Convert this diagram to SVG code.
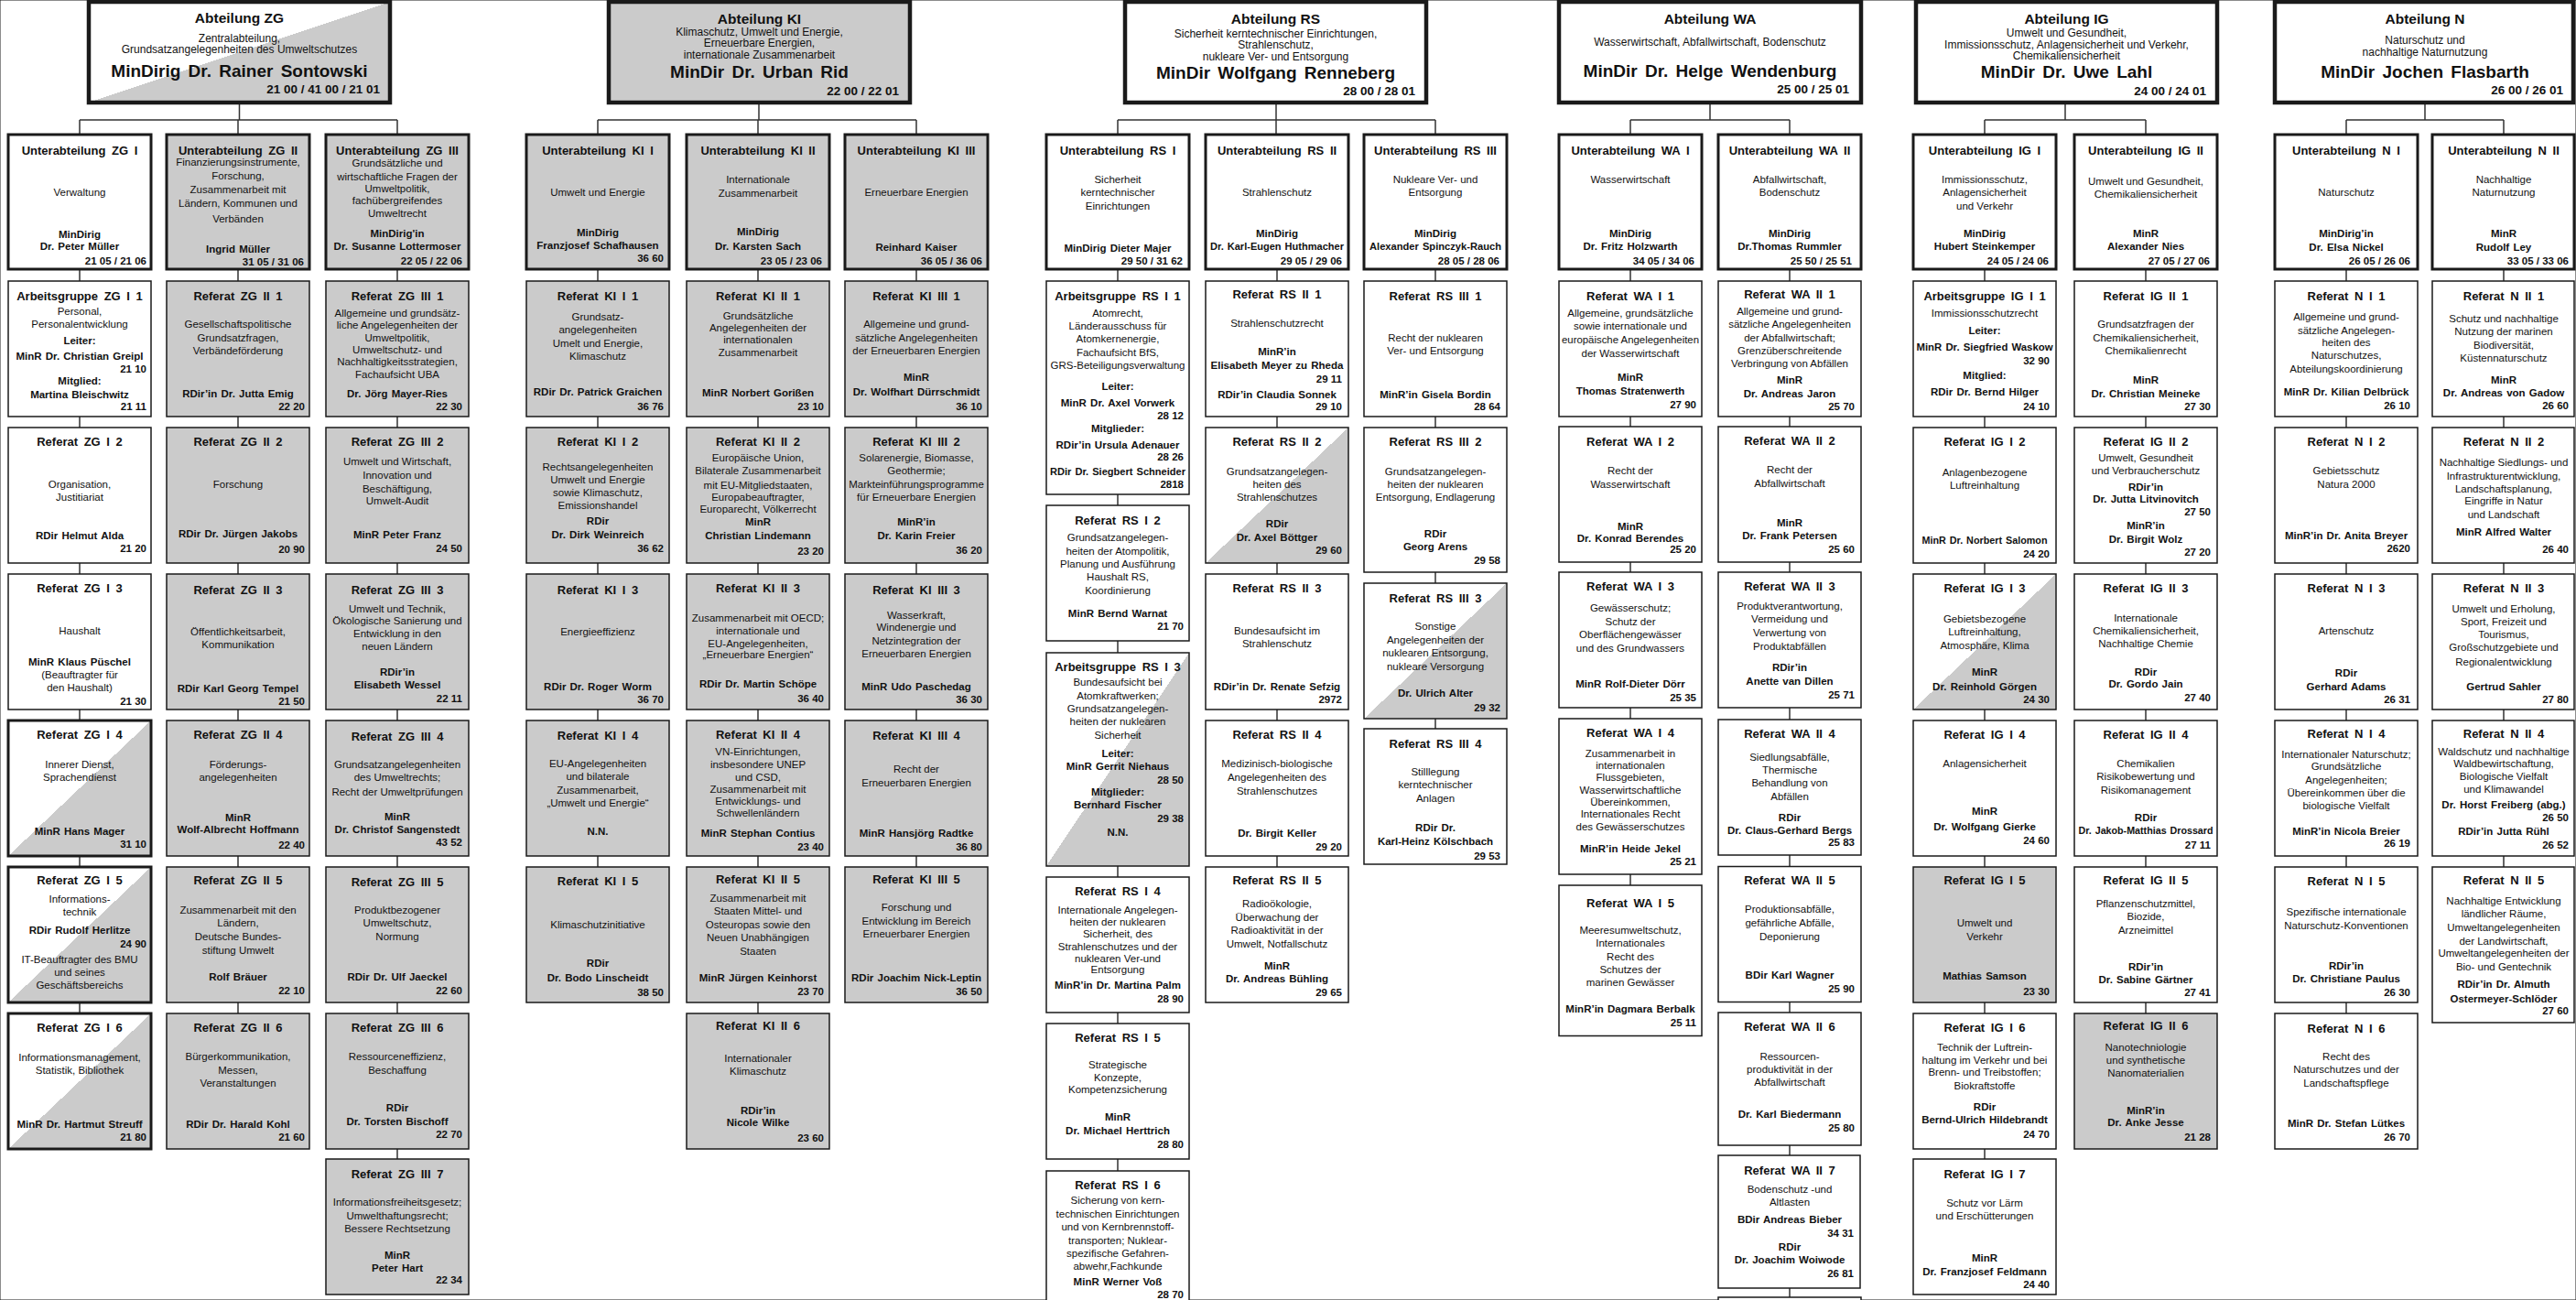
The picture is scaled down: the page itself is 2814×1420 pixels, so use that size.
<svg xmlns="http://www.w3.org/2000/svg" width="2814" height="1420" viewBox="0 0 2814 1420">
<style>
text{font-family:"Liberation Sans",Arial,Helvetica,sans-serif;fill:#111}
.t{font-size:13px;font-weight:bold;text-anchor:middle;word-spacing:3px}
.b{font-size:11.5px;text-anchor:middle}
.n{font-size:11.5px;font-weight:bold;text-anchor:middle;word-spacing:1px}
.p{font-size:11.5px;font-weight:bold;text-anchor:end}
.ht{font-size:15.5px;font-weight:bold;text-anchor:middle}
.hs{font-size:12px;text-anchor:middle}
.hn{font-size:19px;font-weight:bold;text-anchor:middle;word-spacing:3px}
.hp{font-size:13.5px;font-weight:bold;text-anchor:end}
rect{stroke:#1a1a1a}
.r{stroke-width:1.5}
.k{stroke-width:3}
.u{stroke-width:3}
.a{stroke-width:4.5}
.w{fill:#fff}.g{fill:#cbcbcb}.d{fill:url(#diag)}
.c{stroke:#333;stroke-width:1.5;fill:none}
</style>
<defs>
<linearGradient id="diag" x1="0" y1="0" x2="1" y2="1"><stop offset="0.5" stop-color="#fff"/><stop offset="0.5" stop-color="#cbcbcb"/></linearGradient>
</defs>
<rect x="0" y="0" width="2814" height="1420" fill="#fff" stroke="none"/>
<g id="connectors" class="c">
<path d="M261.5,-2V2M261.5,112V131M87,131H434M87,131V147M260,131V147M434,131V147"/>
<path d="M829,-2V2M829,112V131M653,131H1001M653,131V147M828,131V147M1001,131V147"/>
<path d="M1394,-2V2M1394,112V131M1221,131H1568M1221,131V147M1394,131V147M1568,131V147"/>
<path d="M1868,-2V2M1868,112V131M1781,131H1955M1781,131V147M1955,131V147"/>
<path d="M2256,-2V2M2256,112V131M2168,131H2344M2168,131V147M2344,131V147"/>
<path d="M2649,-2V2M2649,112V131M2563,131H2735M2563,131V147M2735,131V147"/>
<path d="M87,294V1107M260,294V1107M434,294V1266"/>
<path d="M653,294V947M828,294V1107M1001,294V947"/>
<path d="M1221,294V1279M1395,294V947M1568,294V796"/>
<path d="M1781,294V967M1955,294V1417"/>
<path d="M2168,294V1266M2344,294V1107"/>
<path d="M2563,294V1107M2735,294V947"/>
</g>

<!-- Abteilungen -->
<g id="abt-zg" transform="translate(97,2)"><rect class="a d" width="329" height="110"/>
<text class="ht" x="164.5" y="23">Abteilung ZG</text>
<text class="hs" x="164.5" y="43.5">Zentralabteilung,</text>
<text class="hs" x="164.5" y="56">Grundsatzangelegenheiten des Umweltschutzes</text>
<text class="hn" x="164.5" y="81.5">MinDirig Dr. Rainer Sontowski</text>
<text class="hp" x="318" y="99.5">21 00 / 41 00 / 21 01</text></g>
<g id="abt-ki" transform="translate(665,2)"><rect class="a g" width="329" height="110"/>
<text class="ht" x="164.5" y="24">Abteilung KI</text>
<text class="hs" x="164.5" y="36.5">Klimaschutz, Umwelt und Energie,</text>
<text class="hs" x="164.5" y="48.5">Erneuerbare Energien,</text>
<text class="hs" x="164.5" y="61.5">internationale Zusammenarbeit</text>
<text class="hn" x="164.5" y="83">MinDir Dr. Urban Rid</text>
<text class="hp" x="317" y="101.5">22 00 / 22 01</text></g>
<g id="abt-rs" transform="translate(1229,2)"><rect class="a w" width="329" height="110"/>
<text class="ht" x="164.5" y="24">Abteilung RS</text>
<text class="hs" x="164.5" y="38.7">Sicherheit kerntechnischer Einrichtungen,</text>
<text class="hs" x="164.5" y="51">Strahlenschutz,</text>
<text class="hs" x="164.5" y="64">nukleare Ver- und Entsorgung</text>
<text class="hn" x="164.5" y="84">MinDir Wolfgang Renneberg</text>
<text class="hp" x="317" y="101.5">28 00 / 28 01</text></g>
<g id="abt-wa" transform="translate(1703,2)"><rect class="a w" width="330" height="110"/>
<text class="ht" x="165" y="24">Abteilung WA</text>
<text class="hs" x="165" y="48">Wasserwirtschaft, Abfallwirtschaft, Bodenschutz</text>
<text class="hn" x="165" y="81.5">MinDir Dr. Helge Wendenburg</text>
<text class="hp" x="317" y="99.5">25 00 / 25 01</text></g>
<g id="abt-ig" transform="translate(2093,2)"><rect class="a w" width="329" height="110"/>
<text class="ht" x="164.5" y="24">Abteilung IG</text>
<text class="hs" x="164.5" y="38">Umwelt und Gesundheit,</text>
<text class="hs" x="164.5" y="50.7">Immissionsschutz, Anlagensicherheit und Verkehr,</text>
<text class="hs" x="164.5" y="63">Chemikaliensicherheit</text>
<text class="hn" x="164.5" y="83">MinDir Dr. Uwe Lahl</text>
<text class="hp" x="317" y="101.5">24 00 / 24 01</text></g>
<g id="abt-n" transform="translate(2485,2)"><rect class="a w" width="326" height="110"/>
<text class="ht" x="164" y="24">Abteilung N</text>
<text class="hs" x="164" y="46">Naturschutz und</text>
<text class="hs" x="164" y="59">nachhaltige Naturnutzung</text>
<text class="hn" x="164" y="83">MinDir Jochen Flasbarth</text>
<text class="hp" x="315" y="101">26 00 / 26 01</text></g>

<!-- Unterabteilungen -->
<g id="ua-zg-i" transform="translate(9,147)"><rect class="u w" width="156" height="147"/>
<text class="t" x="78" y="22">Unterabteilung ZG I</text>
<text class="b" x="78" y="67">Verwaltung</text>
<text class="n" x="78" y="112.5">MinDirig</text>
<text class="n" x="78" y="126">Dr. Peter Müller</text>
<text class="p" x="151" y="142">21 05 / 21 06</text></g>
<g id="ua-zg-ii" transform="translate(182,147)"><rect class="u g" width="156" height="147"/>
<text class="t" x="78" y="21.5">Unterabteilung ZG II</text>
<text class="b" x="78" y="34">Finanzierungsinstrumente,</text>
<text class="b" x="78" y="49">Forschung,</text>
<text class="b" x="78" y="63.6">Zusammenarbeit mit</text>
<text class="b" x="78" y="79">Ländern, Kommunen und</text>
<text class="b" x="78" y="96">Verbänden</text>
<text class="n" x="78" y="128.5">Ingrid Müller</text>
<text class="p" x="150" y="143">31 05 / 31 06</text></g>
<g id="ua-zg-iii" transform="translate(356,147)"><rect class="u g" width="156" height="147"/>
<text class="t" x="78" y="21.5">Unterabteilung ZG III</text>
<text class="b" x="78" y="35">Grundsätzliche und</text>
<text class="b" x="78" y="50">wirtschaftliche Fragen der</text>
<text class="b" x="78" y="62.7">Umweltpolitik,</text>
<text class="b" x="78" y="76">fachübergreifendes</text>
<text class="b" x="78" y="90">Umweltrecht</text>
<text class="n" x="78" y="111.5">MinDirig'in</text>
<text class="n" x="78" y="126">Dr. Susanne Lottermoser</text>
<text class="p" x="149" y="142">22 05 / 22 06</text></g>
<g id="ua-ki-i" transform="translate(575,147)"><rect class="u g" width="156" height="147"/>
<text class="t" x="78" y="22">Unterabteilung KI I</text>
<text class="b" x="78" y="67">Umwelt und Energie</text>
<text class="n" x="78" y="111">MinDirig</text>
<text class="n" x="78" y="125">Franzjosef Schafhausen</text>
<text class="p" x="150" y="139">36 60</text></g>
<g id="ua-ki-ii" transform="translate(750,147)"><rect class="u g" width="156" height="147"/>
<text class="t" x="78" y="22">Unterabteilung KI II</text>
<text class="b" x="78" y="53">Internationale</text>
<text class="b" x="78" y="68">Zusammenarbeit</text>
<text class="n" x="78" y="110">MinDirig</text>
<text class="n" x="78" y="126">Dr. Karsten Sach</text>
<text class="p" x="148" y="142">23 05 / 23 06</text></g>
<g id="ua-ki-iii" transform="translate(923,147)"><rect class="u g" width="156" height="147"/>
<text class="t" x="78" y="22">Unterabteilung KI III</text>
<text class="b" x="78" y="67">Erneuerbare Energien</text>
<text class="n" x="78" y="127">Reinhard Kaiser</text>
<text class="p" x="150" y="142">36 05 / 36 06</text></g>
<g id="ua-rs-i" transform="translate(1143,147)"><rect class="u w" width="156" height="147"/>
<text class="t" x="78" y="22">Unterabteilung RS I</text>
<text class="b" x="78" y="53">Sicherheit</text>
<text class="b" x="78" y="67">kerntechnischer</text>
<text class="b" x="78" y="82">Einrichtungen</text>
<text class="n" x="78" y="128">MinDirig Dieter Majer</text>
<text class="p" x="149" y="142">29 50 / 31 62</text></g>
<g id="ua-rs-ii" transform="translate(1317,147)"><rect class="u w" width="156" height="147"/>
<text class="t" x="78" y="22">Unterabteilung RS II</text>
<text class="b" x="78" y="67">Strahlenschutz</text>
<text class="n" x="78" y="112">MinDirig</text>
<text class="n" x="78" y="126" textLength="146" lengthAdjust="spacingAndGlyphs">Dr. Karl-Eugen Huthmacher</text>
<text class="p" x="149" y="142">29 05 / 29 06</text></g>
<g id="ua-rs-iii" transform="translate(1490,147)"><rect class="u w" width="156" height="147"/>
<text class="t" x="78" y="22">Unterabteilung RS III</text>
<text class="b" x="78" y="53">Nukleare Ver- und</text>
<text class="b" x="78" y="67">Entsorgung</text>
<text class="n" x="78" y="112">MinDirig</text>
<text class="n" x="78" y="126" textLength="144" lengthAdjust="spacingAndGlyphs">Alexander Spinczyk-Rauch</text>
<text class="p" x="148" y="142">28 05 / 28 06</text></g>
<g id="ua-wa-i" transform="translate(1703,147)"><rect class="u w" width="156" height="147"/>
<text class="t" x="78" y="22">Unterabteilung WA I</text>
<text class="b" x="78" y="53">Wasserwirtschaft</text>
<text class="n" x="78" y="112">MinDirig</text>
<text class="n" x="78" y="126">Dr. Fritz Holzwarth</text>
<text class="p" x="148" y="142">34 05 / 34 06</text></g>
<g id="ua-wa-ii" transform="translate(1877,147)"><rect class="u w" width="156" height="147"/>
<text class="t" x="78" y="22">Unterabteilung WA II</text>
<text class="b" x="78" y="53">Abfallwirtschaft,</text>
<text class="b" x="78" y="67">Bodenschutz</text>
<text class="n" x="78" y="112">MinDirig</text>
<text class="n" x="78" y="126">Dr.Thomas Rummler</text>
<text class="p" x="146" y="142">25 50 / 25 51</text></g>
<g id="ua-ig-i" transform="translate(2090,147)"><rect class="u w" width="156" height="147"/>
<text class="t" x="78" y="22">Unterabteilung IG I</text>
<text class="b" x="78" y="53">Immissionsschutz,</text>
<text class="b" x="78" y="67">Anlagensicherheit</text>
<text class="b" x="78" y="82">und Verkehr</text>
<text class="n" x="78" y="112">MinDirig</text>
<text class="n" x="78" y="126">Hubert Steinkemper</text>
<text class="p" x="148" y="142">24 05 / 24 06</text></g>
<g id="ua-ig-ii" transform="translate(2266,147)"><rect class="u w" width="156" height="147"/>
<text class="t" x="78" y="22">Unterabteilung IG II</text>
<text class="b" x="78" y="54.5">Umwelt und Gesundheit,</text>
<text class="b" x="78" y="69">Chemikaliensicherheit</text>
<text class="n" x="78" y="112">MinR</text>
<text class="n" x="78" y="126">Alexander Nies</text>
<text class="p" x="148" y="142">27 05 / 27 06</text></g>
<g id="ua-n-i" transform="translate(2485,147)"><rect class="u w" width="156" height="147"/>
<text class="t" x="78" y="22">Unterabteilung N I</text>
<text class="b" x="78" y="67">Naturschutz</text>
<text class="n" x="78" y="112">MinDirig’in</text>
<text class="n" x="78" y="127">Dr. Elsa Nickel</text>
<text class="p" x="148" y="142">26 05 / 26 06</text></g>
<g id="ua-n-ii" transform="translate(2657,147)"><rect class="u w" width="155" height="147"/>
<text class="t" x="78" y="22">Unterabteilung N II</text>
<text class="b" x="78" y="53">Nachhaltige</text>
<text class="b" x="78" y="67">Naturnutzung</text>
<text class="n" x="78" y="112">MinR</text>
<text class="n" x="78" y="127">Rudolf Ley</text>
<text class="p" x="149" y="142">33 05 / 33 06</text></g>

<!-- ZG I -->
<g id="zg-i-1" transform="translate(9,307)"><rect class="r w" width="156" height="148"/>
<text class="t" x="78" y="20.5">Arbeitsgruppe ZG I 1</text>
<text class="b" x="78" y="37">Personal,</text>
<text class="b" x="78" y="51">Personalentwicklung</text>
<text class="n" x="78" y="69">Leiter:</text>
<text class="n" x="78" y="86">MinR Dr. Christian Greipl</text>
<text class="p" x="151" y="100">21 10</text>
<text class="n" x="78" y="113">Mitglied:</text>
<text class="n" x="78" y="127.5">Martina Bleischwitz</text>
<text class="p" x="151" y="141">21 11</text></g>
<g id="zg-i-2" transform="translate(9,467)"><rect class="r w" width="156" height="148"/>
<text class="t" x="78" y="20">Referat ZG I 2</text>
<text class="b" x="78" y="66">Organisation,</text>
<text class="b" x="78" y="80">Justitiariat</text>
<text class="n" x="78" y="121.5">RDir Helmut Alda</text>
<text class="p" x="151" y="136">21 20</text></g>
<g id="zg-i-3" transform="translate(9,627)"><rect class="r w" width="156" height="148"/>
<text class="t" x="78" y="20">Referat ZG I 3</text>
<text class="b" x="78" y="66">Haushalt</text>
<text class="n" x="78" y="100">MinR Klaus Püschel</text>
<text class="b" x="78" y="114">(Beauftragter für</text>
<text class="b" x="78" y="128">den Haushalt)</text>
<text class="p" x="151" y="142.6">21 30</text></g>
<g id="zg-i-4" transform="translate(9,787)"><rect class="k d" width="156" height="148"/>
<text class="t" x="78" y="20">Referat ZG I 4</text>
<text class="b" x="78" y="52">Innerer Dienst,</text>
<text class="b" x="78" y="66">Sprachendienst</text>
<text class="n" x="78" y="124.5">MinR Hans Mager</text>
<text class="p" x="151" y="139">31 10</text></g>
<g id="zg-i-5" transform="translate(9,947)"><rect class="k d" width="156" height="148"/>
<text class="t" x="78" y="19">Referat ZG I 5</text>
<text class="b" x="78" y="38.5">Informations-</text>
<text class="b" x="78" y="53">technik</text>
<text class="n" x="78" y="73">RDir Rudolf Herlitze</text>
<text class="p" x="151" y="87.5">24 90</text>
<text class="b" x="78" y="105">IT-Beauftragter des BMU</text>
<text class="b" x="78" y="119">und seines</text>
<text class="b" x="78" y="132.5">Geschäftsbereichs</text></g>
<g id="zg-i-6" transform="translate(9,1107)"><rect class="k d" width="156" height="148"/>
<text class="t" x="78" y="20">Referat ZG I 6</text>
<text class="b" x="78" y="52">Informationsmanagement,</text>
<text class="b" x="78" y="66">Statistik, Bibliothek</text>
<text class="n" x="78" y="124.5">MinR Dr. Hartmut Streuff</text>
<text class="p" x="151" y="139">21 80</text></g>

<!-- ZG II -->
<g id="zg-ii-1" transform="translate(182,307)"><rect class="r g" width="156" height="148"/>
<text class="t" x="78" y="20.5">Referat ZG II 1</text>
<text class="b" x="78" y="51">Gesellschaftspolitische</text>
<text class="b" x="78" y="65.5">Grundsatzfragen,</text>
<text class="b" x="78" y="80">Verbändeförderung</text>
<text class="n" x="78" y="127">RDir’in Dr. Jutta Emig</text>
<text class="p" x="151" y="141">22 20</text></g>
<g id="zg-ii-2" transform="translate(182,467)"><rect class="r g" width="156" height="148"/>
<text class="t" x="78" y="20">Referat ZG II 2</text>
<text class="b" x="78" y="66">Forschung</text>
<text class="n" x="78" y="120">RDir Dr. Jürgen Jakobs</text>
<text class="p" x="151" y="137">20 90</text></g>
<g id="zg-ii-3" transform="translate(182,627)"><rect class="r g" width="156" height="148"/>
<text class="t" x="78" y="21.5">Referat ZG II 3</text>
<text class="b" x="78" y="67">Öffentlichkeitsarbeit,</text>
<text class="b" x="78" y="80.6">Kommunikation</text>
<text class="n" x="78" y="129">RDir Karl Georg Tempel</text>
<text class="p" x="151" y="142.6">21 50</text></g>
<g id="zg-ii-4" transform="translate(182,787)"><rect class="r g" width="156" height="148"/>
<text class="t" x="78" y="20">Referat ZG II 4</text>
<text class="b" x="78" y="52">Förderungs-</text>
<text class="b" x="78" y="66">angelegenheiten</text>
<text class="n" x="78" y="109.6">MinR</text>
<text class="n" x="78" y="123.4">Wolf-Albrecht Hoffmann</text>
<text class="p" x="151" y="139.5">22 40</text></g>
<g id="zg-ii-5" transform="translate(182,947)"><rect class="r g" width="156" height="148"/>
<text class="t" x="78" y="19">Referat ZG II 5</text>
<text class="b" x="78" y="51">Zusammenarbeit mit den</text>
<text class="b" x="78" y="64.6">Ländern,</text>
<text class="b" x="78" y="79.7">Deutsche Bundes-</text>
<text class="b" x="78" y="95">stiftung Umwelt</text>
<text class="n" x="78" y="124">Rolf Bräuer</text>
<text class="p" x="151" y="139">22 10</text></g>
<g id="zg-ii-6" transform="translate(182,1107)"><rect class="r g" width="156" height="148"/>
<text class="t" x="78" y="20">Referat ZG II 6</text>
<text class="b" x="78" y="51">Bürgerkommunikation,</text>
<text class="b" x="78" y="66">Messen,</text>
<text class="b" x="78" y="80">Veranstaltungen</text>
<text class="n" x="78" y="124.5">RDir Dr. Harald Kohl</text>
<text class="p" x="151" y="139">21 60</text></g>

<!-- ZG III -->
<g id="zg-iii-1" transform="translate(356,307)"><rect class="r g" width="156" height="148"/>
<text class="t" x="78" y="20.5">Referat ZG III 1</text>
<text class="b" x="78" y="39">Allgemeine und grundsätz-</text>
<text class="b" x="78" y="52">liche Angelegenheiten der</text>
<text class="b" x="78" y="66">Umweltpolitik,</text>
<text class="b" x="78" y="79">Umweltschutz- und</text>
<text class="b" x="78" y="92">Nachhaltigkeitsstrategien,</text>
<text class="b" x="78" y="106">Fachaufsicht UBA</text>
<text class="n" x="78" y="126.5">Dr. Jörg Mayer-Ries</text>
<text class="p" x="149" y="141">22 30</text></g>
<g id="zg-iii-2" transform="translate(356,467)"><rect class="r g" width="156" height="148"/>
<text class="t" x="78" y="20">Referat ZG III 2</text>
<text class="b" x="78" y="40.7">Umwelt und Wirtschaft,</text>
<text class="b" x="78" y="56">Innovation und</text>
<text class="b" x="78" y="70.5">Beschäftigung,</text>
<text class="b" x="78" y="84">Umwelt-Audit</text>
<text class="n" x="78" y="121">MinR Peter Franz</text>
<text class="p" x="149" y="136">24 50</text></g>
<g id="zg-iii-3" transform="translate(356,627)"><rect class="r g" width="156" height="148"/>
<text class="t" x="78" y="21.5">Referat ZG III 3</text>
<text class="b" x="78" y="41.7">Umwelt und Technik,</text>
<text class="b" x="78" y="55.4">Ökologische Sanierung und</text>
<text class="b" x="78" y="69">Entwicklung in den</text>
<text class="b" x="78" y="83">neuen Ländern</text>
<text class="n" x="78" y="110.5">RDir’in</text>
<text class="n" x="78" y="125">Elisabeth Wessel</text>
<text class="p" x="149" y="140">22 11</text></g>
<g id="zg-iii-4" transform="translate(356,787)"><rect class="r g" width="156" height="148"/>
<text class="t" x="78" y="21.5">Referat ZG III 4</text>
<text class="b" x="78" y="52">Grundsatzangelegenheiten</text>
<text class="b" x="78" y="66">des Umweltrechts;</text>
<text class="b" x="78" y="82">Recht der Umweltprüfungen</text>
<text class="n" x="78" y="108.7">MinR</text>
<text class="n" x="78" y="123.4">Dr. Christof Sangenstedt</text>
<text class="p" x="149" y="137">43 52</text></g>
<g id="zg-iii-5" transform="translate(356,947)"><rect class="r g" width="156" height="148"/>
<text class="t" x="78" y="21">Referat ZG III 5</text>
<text class="b" x="78" y="51">Produktbezogener</text>
<text class="b" x="78" y="64.6">Umweltschutz,</text>
<text class="b" x="78" y="79.7">Normung</text>
<text class="n" x="78" y="124">RDir Dr. Ulf Jaeckel</text>
<text class="p" x="149" y="139">22 60</text></g>
<g id="zg-iii-6" transform="translate(356,1107)"><rect class="r g" width="156" height="148"/>
<text class="t" x="78" y="20">Referat ZG III 6</text>
<text class="b" x="78" y="51">Ressourceneffizienz,</text>
<text class="b" x="78" y="66">Beschaffung</text>
<text class="n" x="78" y="107">RDir</text>
<text class="n" x="78" y="121.5">Dr. Torsten Bischoff</text>
<text class="p" x="149" y="136">22 70</text></g>
<g id="zg-iii-7" transform="translate(356,1266)"><rect class="r g" width="156" height="148"/>
<text class="t" x="78" y="20.5">Referat ZG III 7</text>
<text class="b" x="78" y="51">Informationsfreiheitsgesetz;</text>
<text class="b" x="78" y="66">Umwelthaftungsrecht;</text>
<text class="b" x="78" y="80">Bessere Rechtsetzung</text>
<text class="n" x="78" y="108.7">MinR</text>
<text class="n" x="78" y="122.5">Peter Hart</text>
<text class="p" x="149" y="136">22 34</text></g>

<!-- KI I -->
<g id="ki-i-1" transform="translate(575,307)"><rect class="r g" width="156" height="148"/>
<text class="t" x="78" y="20.5">Referat KI I 1</text>
<text class="b" x="78" y="42.5">Grundsatz-</text>
<text class="b" x="78" y="57">angelegenheiten</text>
<text class="b" x="78" y="71.5">Umelt und Energie,</text>
<text class="b" x="78" y="86">Klimaschutz</text>
<text class="n" x="78" y="125">RDir Dr. Patrick Graichen</text>
<text class="p" x="150" y="141">36 76</text></g>
<g id="ki-i-2" transform="translate(575,467)"><rect class="r g" width="156" height="148"/>
<text class="t" x="78" y="20">Referat KI I 2</text>
<text class="b" x="78" y="47">Rechtsangelegenheiten</text>
<text class="b" x="78" y="60.5">Umwelt und Energie</text>
<text class="b" x="78" y="75">sowie Klimaschutz,</text>
<text class="b" x="78" y="89">Emissionshandel</text>
<text class="n" x="78" y="106">RDir</text>
<text class="n" x="78" y="121">Dr. Dirk Weinreich</text>
<text class="p" x="150" y="136">36 62</text></g>
<g id="ki-i-3" transform="translate(575,627)"><rect class="r g" width="156" height="148"/>
<text class="t" x="78" y="21.5">Referat KI I 3</text>
<text class="b" x="78" y="67">Energieeffizienz</text>
<text class="n" x="78" y="126.6">RDir Dr. Roger Worm</text>
<text class="p" x="150" y="141">36 70</text></g>
<g id="ki-i-4" transform="translate(575,787)"><rect class="r g" width="156" height="148"/>
<text class="t" x="78" y="21">Referat KI I 4</text>
<text class="b" x="78" y="51">EU-Angelegenheiten</text>
<text class="b" x="78" y="65">und bilaterale</text>
<text class="b" x="78" y="79.7">Zusammenarbeit,</text>
<text class="b" x="78" y="94">„Umwelt und Energie“</text>
<text class="n" x="78" y="124.7">N.N.</text></g>
<g id="ki-i-5" transform="translate(575,947)"><rect class="r g" width="156" height="148"/>
<text class="t" x="78" y="20">Referat KI I 5</text>
<text class="b" x="78" y="67">Klimaschutzinitiative</text>
<text class="n" x="78" y="108.7">RDir</text>
<text class="n" x="78" y="124.7">Dr. Bodo Linscheidt</text>
<text class="p" x="150" y="141">38 50</text></g>

<!-- KI II -->
<g id="ki-ii-1" transform="translate(750,307)"><rect class="r g" width="156" height="148"/>
<text class="t" x="78" y="20.5">Referat KI II 1</text>
<text class="b" x="78" y="41.6">Grundsätzliche</text>
<text class="b" x="78" y="55">Angelegenheiten der</text>
<text class="b" x="78" y="68">internationalen</text>
<text class="b" x="78" y="81.5">Zusammenarbeit</text>
<text class="n" x="78" y="125.5">MinR Norbert Gorißen</text>
<text class="p" x="150" y="141">23 10</text></g>
<g id="ki-ii-2" transform="translate(750,467)"><rect class="r g" width="156" height="148"/>
<text class="t" x="78" y="20">Referat KI II 2</text>
<text class="b" x="78" y="36.6">Europäische Union,</text>
<text class="b" x="78" y="51">Bilaterale Zusammenarbeit</text>
<text class="b" x="78" y="66.6">mit EU-Mitgliedstaaten,</text>
<text class="b" x="78" y="80">Europabeauftragter,</text>
<text class="b" x="78" y="92.6">Europarecht, Völkerrecht</text>
<text class="n" x="78" y="107">MinR</text>
<text class="n" x="78" y="121.5">Christian Lindemann</text>
<text class="p" x="150" y="138.5">23 20</text></g>
<g id="ki-ii-3" transform="translate(750,627)"><rect class="r g" width="156" height="148"/>
<text class="t" x="78" y="20">Referat KI II 3</text>
<text class="b" x="78" y="52">Zusammenarbeit mit OECD;</text>
<text class="b" x="78" y="66">internationale und</text>
<text class="b" x="78" y="80">EU-Angelegenheiten,</text>
<text class="b" x="78" y="92">„Erneuerbare Energien“</text>
<text class="n" x="78" y="124.3">RDir Dr. Martin Schöpe</text>
<text class="p" x="150" y="140.4">36 40</text></g>
<g id="ki-ii-4" transform="translate(750,787)"><rect class="r g" width="156" height="148"/>
<text class="t" x="78" y="20">Referat KI II 4</text>
<text class="b" x="78" y="38.4">VN-Einrichtungen,</text>
<text class="b" x="78" y="52">insbesondere UNEP</text>
<text class="b" x="78" y="66">und CSD,</text>
<text class="b" x="78" y="79">Zusammenarbeit mit</text>
<text class="b" x="78" y="92">Entwicklungs- und</text>
<text class="b" x="78" y="105">Schwellenländern</text>
<text class="n" x="78" y="126.6">MinR Stephan Contius</text>
<text class="p" x="150" y="142">23 40</text></g>
<g id="ki-ii-5" transform="translate(750,947)"><rect class="r g" width="156" height="148"/>
<text class="t" x="78" y="17.8">Referat KI II 5</text>
<text class="b" x="78" y="37.5">Zusammenarbeit mit</text>
<text class="b" x="78" y="52">Staaten Mittel- und</text>
<text class="b" x="78" y="67">Osteuropas sowie den</text>
<text class="b" x="78" y="81">Neuen Unabhängigen</text>
<text class="b" x="78" y="96">Staaten</text>
<text class="n" x="78" y="124.5">MinR Jürgen Keinhorst</text>
<text class="p" x="150" y="140">23 70</text></g>
<g id="ki-ii-6" transform="translate(750,1107)"><rect class="r g" width="156" height="148"/>
<text class="t" x="78" y="18">Referat KI II 6</text>
<text class="b" x="78" y="52.7">Internationaler</text>
<text class="b" x="78" y="67">Klimaschutz</text>
<text class="n" x="78" y="109.6">RDir’in</text>
<text class="n" x="78" y="123.4">Nicole Wilke</text>
<text class="p" x="150" y="139.5">23 60</text></g>

<!-- KI III -->
<g id="ki-iii-1" transform="translate(923,307)"><rect class="r g" width="156" height="148"/>
<text class="t" x="78" y="20.5">Referat KI III 1</text>
<text class="b" x="78" y="51">Allgemeine und grund-</text>
<text class="b" x="78" y="66">sätzliche Angelegenheiten</text>
<text class="b" x="78" y="80">der Erneuerbaren Energien</text>
<text class="n" x="78" y="109">MinR</text>
<text class="n" x="78" y="125">Dr. Wolfhart Dürrschmidt</text>
<text class="p" x="150" y="141">36 10</text></g>
<g id="ki-iii-2" transform="translate(923,467)"><rect class="r g" width="156" height="148"/>
<text class="t" x="78" y="20">Referat KI III 2</text>
<text class="b" x="78" y="36.6">Solarenergie, Biomasse,</text>
<text class="b" x="78" y="51">Geothermie;</text>
<text class="b" x="78" y="66">Markteinführungsprogramme</text>
<text class="b" x="78" y="80">für Erneuerbare Energien</text>
<text class="n" x="78" y="107">MinR’in</text>
<text class="n" x="78" y="122">Dr. Karin Freier</text>
<text class="p" x="150" y="137.6">36 20</text></g>
<g id="ki-iii-3" transform="translate(923,627)"><rect class="r g" width="156" height="148"/>
<text class="t" x="78" y="21.5">Referat KI III 3</text>
<text class="b" x="78" y="48.6">Wasserkraft,</text>
<text class="b" x="78" y="62.4">Windenergie und</text>
<text class="b" x="78" y="76.6">Netzintegration der</text>
<text class="b" x="78" y="90.6">Erneuerbaren Energien</text>
<text class="n" x="78" y="126.6">MinR Udo Paschedag</text>
<text class="p" x="150" y="141">36 30</text></g>
<g id="ki-iii-4" transform="translate(923,787)"><rect class="r g" width="156" height="148"/>
<text class="t" x="78" y="21">Referat KI III 4</text>
<text class="b" x="78" y="57">Recht der</text>
<text class="b" x="78" y="71.5">Erneuerbaren Energien</text>
<text class="n" x="78" y="127">MinR Hansjörg Radtke</text>
<text class="p" x="150" y="142">36 80</text></g>
<g id="ki-iii-5" transform="translate(923,947)"><rect class="r g" width="156" height="148"/>
<text class="t" x="78" y="18">Referat KI III 5</text>
<text class="b" x="78" y="48">Forschung und</text>
<text class="b" x="78" y="62.5">Entwicklung im Bereich</text>
<text class="b" x="78" y="76.5">Erneuerbarer Energien</text>
<text class="n" x="78" y="124.7">RDir Joachim Nick-Leptin</text>
<text class="p" x="150" y="140">36 50</text></g>

<!-- RS I -->
<g id="rs-i-1" transform="translate(1143,307)"><rect class="r w" width="156" height="233"/>
<text class="t" x="78" y="20.5">Arbeitsgruppe RS I 1</text>
<text class="b" x="78" y="39">Atomrecht,</text>
<text class="b" x="78" y="53">Länderausschuss für</text>
<text class="b" x="78" y="67">Atomkernenergie,</text>
<text class="b" x="78" y="82">Fachaufsicht BfS,</text>
<text class="b" x="78" y="96">GRS-Beteiligungsverwaltung</text>
<text class="n" x="78" y="119">Leiter:</text>
<text class="n" x="78" y="137">MinR Dr. Axel Vorwerk</text>
<text class="p" x="150" y="150.5">28 12</text>
<text class="n" x="78" y="164.7">Mitglieder:</text>
<text class="n" x="78" y="182.6">RDir’in Ursula Adenauer</text>
<text class="p" x="150" y="196.3">28 26</text>
<text class="n" x="78" y="211.5" textLength="148" lengthAdjust="spacingAndGlyphs">RDir Dr. Siegbert Schneider</text>
<text class="p" x="150" y="226">2818</text></g>
<g id="rs-i-2" transform="translate(1143,552)"><rect class="r w" width="156" height="148"/>
<text class="t" x="78" y="21">Referat RS I 2</text>
<text class="b" x="78" y="39.4">Grundsatzangelegen-</text>
<text class="b" x="78" y="54">heiten der Atompolitik,</text>
<text class="b" x="78" y="68.3">Planung und Ausführung</text>
<text class="b" x="78" y="82">Haushalt RS,</text>
<text class="b" x="78" y="96.8">Koordinierung</text>
<text class="n" x="78" y="122">MinR Bernd Warnat</text>
<text class="p" x="150" y="135.8">21 70</text></g>
<g id="rs-i-3" transform="translate(1143,713)"><rect class="r d" width="156" height="233"/>
<text class="t" x="78" y="20">Arbeitsgruppe RS I 3</text>
<text class="b" x="78" y="35.6">Bundesaufsicht bei</text>
<text class="b" x="78" y="50.8">Atomkraftwerken;</text>
<text class="b" x="78" y="64.6">Grundsatzangelegen-</text>
<text class="b" x="78" y="79.3">heiten der nuklearen</text>
<text class="b" x="78" y="93.5">Sicherheit</text>
<text class="n" x="78" y="114">Leiter:</text>
<text class="n" x="78" y="128">MinR Gerrit Niehaus</text>
<text class="p" x="150" y="142.6">28 50</text>
<text class="n" x="78" y="156.4">Mitglieder:</text>
<text class="n" x="78" y="170">Bernhard Fischer</text>
<text class="p" x="150" y="185.3">29 38</text>
<text class="n" x="78" y="200">N.N.</text></g>
<g id="rs-i-4" transform="translate(1143,958)"><rect class="r w" width="156" height="148"/>
<text class="t" x="78" y="20">Referat RS I 4</text>
<text class="b" x="78" y="40">Internationale Angelegen-</text>
<text class="b" x="78" y="52.6">heiten der nuklearen</text>
<text class="b" x="78" y="66.4">Sicherheit, des</text>
<text class="b" x="78" y="79.7">Strahlenschutzes und der</text>
<text class="b" x="78" y="92.6">nuklearen Ver-und</text>
<text class="b" x="78" y="105">Entsorgung</text>
<text class="n" x="78" y="121.5">MinR’in Dr. Martina Palm</text>
<text class="p" x="150" y="137">28 90</text></g>
<g id="rs-i-5" transform="translate(1143,1118)"><rect class="r w" width="156" height="148"/>
<text class="t" x="78" y="20">Referat RS I 5</text>
<text class="b" x="78" y="49">Strategische</text>
<text class="b" x="78" y="62.8">Konzepte,</text>
<text class="b" x="78" y="76">Kompetenzsicherung</text>
<text class="n" x="78" y="106">MinR</text>
<text class="n" x="78" y="121">Dr. Michael Herttrich</text>
<text class="p" x="150" y="135.8">28 80</text></g>
<g id="rs-i-6" transform="translate(1143,1279)"><rect class="r w" width="156" height="170"/>
<text class="t" x="78" y="20">Referat RS I 6</text>
<text class="b" x="78" y="36">Sicherung von kern-</text>
<text class="b" x="78" y="50.7">technischen Einrichtungen</text>
<text class="b" x="78" y="65">und von Kernbrennstoff-</text>
<text class="b" x="78" y="79.6">transporten; Nuklear-</text>
<text class="b" x="78" y="94.3">spezifische Gefahren-</text>
<text class="b" x="78" y="108">abwehr,Fachkunde</text>
<text class="n" x="78" y="125">MinR Werner Voß</text>
<text class="p" x="150" y="139">28 70</text></g>

<!-- RS II -->
<g id="rs-ii-1" transform="translate(1317,307)"><rect class="r w" width="156" height="148"/>
<text class="t" x="78" y="18.7">Referat RS II 1</text>
<text class="b" x="78" y="50">Strahlenschutzrecht</text>
<text class="n" x="78" y="80.7">MinR’in</text>
<text class="n" x="78" y="96">Elisabeth Meyer zu Rheda</text>
<text class="p" x="149" y="110.5">29 11</text>
<text class="n" x="78" y="127.5">RDir’in Claudia Sonnek</text>
<text class="p" x="149" y="141">29 10</text></g>
<g id="rs-ii-2" transform="translate(1317,467)"><rect class="r d" width="156" height="148"/>
<text class="t" x="78" y="20">Referat RS II 2</text>
<text class="b" x="78" y="52">Grundsatzangelegen-</text>
<text class="b" x="78" y="66">heiten des</text>
<text class="b" x="78" y="80">Strahlenschutzes</text>
<text class="n" x="78" y="108.6">RDir</text>
<text class="n" x="78" y="123.8">Dr. Axel Böttger</text>
<text class="p" x="149" y="137.6">29 60</text></g>
<g id="rs-ii-3" transform="translate(1317,627)"><rect class="r w" width="156" height="148"/>
<text class="t" x="78" y="20">Referat RS II 3</text>
<text class="b" x="78" y="66">Bundesaufsicht im</text>
<text class="b" x="78" y="80">Strahlenschutz</text>
<text class="n" x="78" y="126.6">RDir’in Dr. Renate Sefzig</text>
<text class="p" x="149" y="141">2972</text></g>
<g id="rs-ii-4" transform="translate(1317,787)"><rect class="r w" width="156" height="148"/>
<text class="t" x="78" y="20">Referat RS II 4</text>
<text class="b" x="78" y="51">Medizinisch-biologische</text>
<text class="b" x="78" y="66">Angelegenheiten des</text>
<text class="b" x="78" y="80.7">Strahlenschutzes</text>
<text class="n" x="78" y="126.6">Dr. Birgit Keller</text>
<text class="p" x="149" y="142">29 20</text></g>
<g id="rs-ii-5" transform="translate(1317,947)"><rect class="r w" width="156" height="148"/>
<text class="t" x="78" y="19">Referat RS II 5</text>
<text class="b" x="78" y="44">Radioökologie,</text>
<text class="b" x="78" y="59">Überwachung der</text>
<text class="b" x="78" y="73">Radioaktivität in der</text>
<text class="b" x="78" y="87.6">Umwelt, Notfallschutz</text>
<text class="n" x="78" y="112">MinR</text>
<text class="n" x="78" y="125.6">Dr. Andreas Bühling</text>
<text class="p" x="149" y="140.8">29 65</text></g>

<!-- RS III -->
<g id="rs-iii-1" transform="translate(1490,307)"><rect class="r w" width="156" height="148"/>
<text class="t" x="78" y="20.5">Referat RS III 1</text>
<text class="b" x="78" y="66">Recht der nuklearen</text>
<text class="b" x="78" y="80">Ver- und Entsorgung</text>
<text class="n" x="78" y="127.5">MinR’in Gisela Bordin</text>
<text class="p" x="149" y="141">28 64</text></g>
<g id="rs-iii-2" transform="translate(1490,467)"><rect class="r w" width="156" height="158"/>
<text class="t" x="78" y="20">Referat RS III 2</text>
<text class="b" x="78" y="52">Grundsatzangelegen-</text>
<text class="b" x="78" y="66">heiten der nuklearen</text>
<text class="b" x="78" y="80">Entsorgung, Endlagerung</text>
<text class="n" x="78" y="119.5">RDir</text>
<text class="n" x="78" y="134">Georg Arens</text>
<text class="p" x="149" y="149">29 58</text></g>
<g id="rs-iii-3" transform="translate(1490,637)"><rect class="r d" width="156" height="148"/>
<text class="t" x="78" y="21">Referat RS III 3</text>
<text class="b" x="78" y="51">Sonstige</text>
<text class="b" x="78" y="65.6">Angelegenheiten der</text>
<text class="b" x="78" y="80">nuklearen Entsorgung,</text>
<text class="b" x="78" y="94.5">nukleare Versorgung</text>
<text class="n" x="78" y="124.4">Dr. Ulrich Alter</text>
<text class="p" x="149" y="140.4">29 32</text></g>
<g id="rs-iii-4" transform="translate(1490,796)"><rect class="r w" width="156" height="148"/>
<text class="t" x="78" y="21">Referat RS III 4</text>
<text class="b" x="78" y="51">Stilllegung</text>
<text class="b" x="78" y="65">kerntechnischer</text>
<text class="b" x="78" y="80">Anlagen</text>
<text class="n" x="78" y="111.7">RDir Dr.</text>
<text class="n" x="78" y="126.9">Karl-Heinz Kölschbach</text>
<text class="p" x="149" y="142.5">29 53</text></g>

<!-- WA I -->
<g id="wa-i-1" transform="translate(1703,307)"><rect class="r w" width="156" height="148"/>
<text class="t" x="78" y="20.5">Referat WA I 1</text>
<text class="b" x="78" y="39">Allgemeine, grundsätzliche</text>
<text class="b" x="78" y="53">sowie internationale und</text>
<text class="b" x="78" y="68" textLength="150" lengthAdjust="spacingAndGlyphs">europäische Angelegenheiten</text>
<text class="b" x="78" y="83">der Wasserwirtschaft</text>
<text class="n" x="78" y="109">MinR</text>
<text class="n" x="78" y="124">Thomas Stratenwerth</text>
<text class="p" x="150" y="139">27 90</text></g>
<g id="wa-i-2" transform="translate(1703,466)"><rect class="r w" width="156" height="148"/>
<text class="t" x="78" y="21">Referat WA I 2</text>
<text class="b" x="78" y="52.3">Recht der</text>
<text class="b" x="78" y="67">Wasserwirtschaft</text>
<text class="n" x="78" y="113">MinR</text>
<text class="n" x="78" y="126">Dr. Konrad Berendes</text>
<text class="p" x="150" y="138.3">25 20</text></g>
<g id="wa-i-3" transform="translate(1703,625)"><rect class="r w" width="156" height="148"/>
<text class="t" x="78" y="20">Referat WA I 3</text>
<text class="b" x="78" y="43">Gewässerschutz;</text>
<text class="b" x="78" y="58">Schutz der</text>
<text class="b" x="78" y="72">Oberflächengewässer</text>
<text class="b" x="78" y="87">und des Grundwassers</text>
<text class="n" x="78" y="126.3">MinR Rolf-Dieter Dörr</text>
<text class="p" x="150" y="141">25 35</text></g>
<g id="wa-i-4" transform="translate(1703,785)"><rect class="r w" width="156" height="170"/>
<text class="t" x="78" y="20">Referat WA I 4</text>
<text class="b" x="78" y="41.6">Zusammenarbeit in</text>
<text class="b" x="78" y="55">internationalen</text>
<text class="b" x="78" y="68">Flussgebieten,</text>
<text class="b" x="78" y="82">Wasserwirtschaftliche</text>
<text class="b" x="78" y="95">Übereinkommen,</text>
<text class="b" x="78" y="108">Internationales Recht</text>
<text class="b" x="78" y="122">des Gewässerschutzes</text>
<text class="n" x="78" y="145.5">MinR’in Heide Jekel</text>
<text class="p" x="150" y="160">25 21</text></g>
<g id="wa-i-5" transform="translate(1703,967)"><rect class="r w" width="156" height="164.5"/>
<text class="t" x="78" y="24">Referat WA I 5</text>
<text class="b" x="78" y="53">Meeresumweltschutz,</text>
<text class="b" x="78" y="67">Internationales</text>
<text class="b" x="78" y="81.7">Recht des</text>
<text class="b" x="78" y="96">Schutzes der</text>
<text class="b" x="78" y="110">marinen Gewässer</text>
<text class="n" x="78" y="139">MinR’in Dagmara Berbalk</text>
<text class="p" x="150" y="154">25 11</text></g>

<!-- WA II -->
<g id="wa-ii-1" transform="translate(1877,307)"><rect class="r w" width="156" height="148"/>
<text class="t" x="78" y="18.7">Referat WA II 1</text>
<text class="b" x="78" y="37">Allgemeine und grund-</text>
<text class="b" x="78" y="51">sätzliche Angelegenheiten</text>
<text class="b" x="78" y="65.5">der Abfallwirtschaft;</text>
<text class="b" x="78" y="79.7">Grenzüberschreitende</text>
<text class="b" x="78" y="94.4">Verbringung von Abfällen</text>
<text class="n" x="78" y="112">MinR</text>
<text class="n" x="78" y="126.5">Dr. Andreas Jaron</text>
<text class="p" x="149" y="141">25 70</text></g>
<g id="wa-ii-2" transform="translate(1877,466)"><rect class="r w" width="156" height="148"/>
<text class="t" x="78" y="20">Referat WA II 2</text>
<text class="b" x="78" y="51">Recht der</text>
<text class="b" x="78" y="66">Abfallwirtschaft</text>
<text class="n" x="78" y="109">MinR</text>
<text class="n" x="78" y="123">Dr. Frank Petersen</text>
<text class="p" x="149" y="137.6">25 60</text></g>
<g id="wa-ii-3" transform="translate(1877,625)"><rect class="r w" width="156" height="148"/>
<text class="t" x="78" y="20">Referat WA II 3</text>
<text class="b" x="78" y="41">Produktverantwortung,</text>
<text class="b" x="78" y="54.7">Vermeidung und</text>
<text class="b" x="78" y="69.8">Verwertung von</text>
<text class="b" x="78" y="84.5">Produktabfällen</text>
<text class="n" x="78" y="107.9">RDir’in</text>
<text class="n" x="78" y="122.6">Anette van Dillen</text>
<text class="p" x="149" y="137.8">25 71</text></g>
<g id="wa-ii-4" transform="translate(1877,786)"><rect class="r w" width="156" height="148"/>
<text class="t" x="78" y="20">Referat WA II 4</text>
<text class="b" x="78" y="45">Siedlungsabfälle,</text>
<text class="b" x="78" y="59">Thermische</text>
<text class="b" x="78" y="73">Behandlung von</text>
<text class="b" x="78" y="88">Abfällen</text>
<text class="n" x="78" y="111">RDir</text>
<text class="n" x="78" y="124.6">Dr. Claus-Gerhard Bergs</text>
<text class="p" x="149" y="138.4">25 83</text></g>
<g id="wa-ii-5" transform="translate(1877,946.5)"><rect class="r w" width="156" height="148"/>
<text class="t" x="78" y="19">Referat WA II 5</text>
<text class="b" x="78" y="50">Produktionsabfälle,</text>
<text class="b" x="78" y="65">gefährliche Abfälle,</text>
<text class="b" x="78" y="80">Deponierung</text>
<text class="n" x="78" y="122.5">BDir Karl Wagner</text>
<text class="p" x="149" y="137">25 90</text></g>
<g id="wa-ii-6" transform="translate(1877,1106)"><rect class="r w" width="156" height="145"/>
<text class="t" x="78" y="19.6">Referat WA II 6</text>
<text class="b" x="78" y="51.7">Ressourcen-</text>
<text class="b" x="78" y="65.5">produktivität in der</text>
<text class="b" x="78" y="80">Abfallwirtschaft</text>
<text class="n" x="78" y="114.6">Dr. Karl Biedermann</text>
<text class="p" x="149" y="129.8">25 80</text></g>
<g id="wa-ii-7" transform="translate(1877,1262)"><rect class="r w" width="155" height="145"/>
<text class="t" x="78" y="21">Referat WA II 7</text>
<text class="b" x="78" y="41">Bodenschutz -und</text>
<text class="b" x="78" y="54.7">Altlasten</text>
<text class="n" x="78" y="74.4">BDir Andreas Bieber</text>
<text class="p" x="148" y="89">34 31</text>
<text class="n" x="78" y="104">RDir</text>
<text class="n" x="78" y="117.6">Dr. Joachim Woiwode</text>
<text class="p" x="148" y="132.8">26 81</text></g>
<g id="wa-ii-8" transform="translate(1877,1417)"><rect class="r w" width="156" height="40"/></g>

<!-- IG I -->
<g id="ig-i-1" transform="translate(2090,307)"><rect class="r w" width="156" height="148"/>
<text class="t" x="78" y="20.5">Arbeitsgruppe IG I 1</text>
<text class="b" x="78" y="39">Immissionsschutzrecht</text>
<text class="n" x="78" y="58.3">Leiter:</text>
<text class="n" x="78" y="75.8" textLength="149" lengthAdjust="spacingAndGlyphs">MinR Dr. Siegfried Waskow</text>
<text class="p" x="149" y="90.5">32 90</text>
<text class="n" x="78" y="107">Mitglied:</text>
<text class="n" x="78" y="125">RDir Dr. Bernd Hilger</text>
<text class="p" x="149" y="141">24 10</text></g>
<g id="ig-i-2" transform="translate(2090,467)"><rect class="r w" width="156" height="148"/>
<text class="t" x="78" y="20">Referat IG I 2</text>
<text class="b" x="78" y="52.6">Anlagenbezogene</text>
<text class="b" x="78" y="67">Luftreinhaltung</text>
<text class="n" x="78" y="127" textLength="137" lengthAdjust="spacingAndGlyphs">MinR Dr. Norbert Salomon</text>
<text class="p" x="149" y="142">24 20</text></g>
<g id="ig-i-3" transform="translate(2090,627)"><rect class="r d" width="156" height="148"/>
<text class="t" x="78" y="20">Referat IG I 3</text>
<text class="b" x="78" y="53">Gebietsbezogene</text>
<text class="b" x="78" y="67">Luftreinhaltung,</text>
<text class="b" x="78" y="82">Atmosphäre, Klima</text>
<text class="n" x="78" y="111.4">MinR</text>
<text class="n" x="78" y="126.6">Dr. Reinhold Görgen</text>
<text class="p" x="149" y="141.3">24 30</text></g>
<g id="ig-i-4" transform="translate(2090,787)"><rect class="r w" width="156" height="148"/>
<text class="t" x="78" y="20">Referat IG I 4</text>
<text class="b" x="78" y="51">Anlagensicherheit</text>
<text class="n" x="78" y="102.7">MinR</text>
<text class="n" x="78" y="119.7">Dr. Wolfgang Gierke</text>
<text class="p" x="149" y="135">24 60</text></g>
<g id="ig-i-5" transform="translate(2090,947)"><rect class="r g" width="156" height="148"/>
<text class="t" x="78" y="19">Referat IG I 5</text>
<text class="b" x="78" y="64.6">Umwelt und</text>
<text class="b" x="78" y="79.7">Verkehr</text>
<text class="n" x="78" y="123.4">Mathias Samson</text>
<text class="p" x="149" y="139.5">23 30</text></g>
<g id="ig-i-6" transform="translate(2090,1107)"><rect class="r w" width="156" height="148"/>
<text class="t" x="78" y="20">Referat IG I 6</text>
<text class="b" x="78" y="41">Technik der Luftrein-</text>
<text class="b" x="78" y="54.5">haltung im Verkehr und bei</text>
<text class="b" x="78" y="68">Brenn- und Treibstoffen;</text>
<text class="b" x="78" y="83">Biokraftstoffe</text>
<text class="n" x="78" y="106">RDir</text>
<text class="n" x="78" y="120">Bernd-Ulrich Hildebrandt</text>
<text class="p" x="149" y="136">24 70</text></g>
<g id="ig-i-7" transform="translate(2090,1266)"><rect class="r w" width="156" height="148"/>
<text class="t" x="78" y="21.4">Referat IG I 7</text>
<text class="b" x="78" y="52">Schutz vor Lärm</text>
<text class="b" x="78" y="66">und Erschütterungen</text>
<text class="n" x="78" y="112">MinR</text>
<text class="n" x="78" y="127">Dr. Franzjosef Feldmann</text>
<text class="p" x="149" y="141">24 40</text></g>

<!-- IG II -->
<g id="ig-ii-1" transform="translate(2266,307)"><rect class="r w" width="156" height="148"/>
<text class="t" x="78" y="20.5">Referat IG II 1</text>
<text class="b" x="78" y="51">Grundsatzfragen der</text>
<text class="b" x="78" y="65.5">Chemikaliensicherheit,</text>
<text class="b" x="78" y="80">Chemikalienrecht</text>
<text class="n" x="78" y="112">MinR</text>
<text class="n" x="78" y="126.5">Dr. Christian Meineke</text>
<text class="p" x="149" y="141">27 30</text></g>
<g id="ig-ii-2" transform="translate(2266,467)"><rect class="r w" width="156" height="148"/>
<text class="t" x="78" y="20">Referat IG II 2</text>
<text class="b" x="78" y="36.6">Umwelt, Gesundheit</text>
<text class="b" x="78" y="51">und Verbraucherschutz</text>
<text class="n" x="78" y="68.6">RDir’in</text>
<text class="n" x="78" y="82.4">Dr. Jutta Litvinovitch</text>
<text class="p" x="149" y="96">27 50</text>
<text class="n" x="78" y="110.8">MinR’in</text>
<text class="n" x="78" y="125.5">Dr. Birgit Wolz</text>
<text class="p" x="149" y="139.7">27 20</text></g>
<g id="ig-ii-3" transform="translate(2266,627)"><rect class="r w" width="156" height="148"/>
<text class="t" x="78" y="20">Referat IG II 3</text>
<text class="b" x="78" y="52">Internationale</text>
<text class="b" x="78" y="66">Chemikaliensicherheit,</text>
<text class="b" x="78" y="80">Nachhaltige Chemie</text>
<text class="n" x="78" y="110.5">RDir</text>
<text class="n" x="78" y="124.3">Dr. Gordo Jain</text>
<text class="p" x="149" y="139">27 40</text></g>
<g id="ig-ii-4" transform="translate(2266,787)"><rect class="r w" width="156" height="148"/>
<text class="t" x="78" y="20">Referat IG II 4</text>
<text class="b" x="78" y="51">Chemikalien</text>
<text class="b" x="78" y="65">Risikobewertung und</text>
<text class="b" x="78" y="79.7">Risikomanagement</text>
<text class="n" x="78" y="109.6">RDir</text>
<text class="n" x="78" y="124.3" textLength="147" lengthAdjust="spacingAndGlyphs">Dr. Jakob-Matthias Drossard</text>
<text class="p" x="149" y="140.4">27 11</text></g>
<g id="ig-ii-5" transform="translate(2266,947)"><rect class="r w" width="156" height="148"/>
<text class="t" x="78" y="19">Referat IG II 5</text>
<text class="b" x="78" y="44">Pflanzenschutzmittel,</text>
<text class="b" x="78" y="58">Biozide,</text>
<text class="b" x="78" y="73">Arzneimittel</text>
<text class="n" x="78" y="113">RDir’in</text>
<text class="n" x="78" y="126.5">Dr. Sabine Gärtner</text>
<text class="p" x="149" y="141">27 41</text></g>
<g id="ig-ii-6" transform="translate(2266,1107)"><rect class="r g" width="156" height="148"/>
<text class="t" x="78" y="18">Referat IG II 6</text>
<text class="b" x="78" y="41">Nanotechniologie</text>
<text class="b" x="78" y="55">und synthetische</text>
<text class="b" x="78" y="68.6">Nanomaterialien</text>
<text class="n" x="78" y="109.6">MinR’in</text>
<text class="n" x="78" y="123.4">Dr. Anke Jesse</text>
<text class="p" x="149" y="138.6">21 28</text></g>

<!-- N I -->
<g id="n-i-1" transform="translate(2485,307)"><rect class="r w" width="156" height="148"/>
<text class="t" x="78" y="20.5">Referat N I 1</text>
<text class="b" x="78" y="42.5">Allgemeine und grund-</text>
<text class="b" x="78" y="57.6">sätzliche Angelegen-</text>
<text class="b" x="78" y="71.4">heiten des</text>
<text class="b" x="78" y="85">Naturschutzes,</text>
<text class="b" x="78" y="100">Abteilungskoordinierung</text>
<text class="n" x="78" y="125">MinR Dr. Kilian Delbrück</text>
<text class="p" x="148" y="140.3">26 10</text></g>
<g id="n-i-2" transform="translate(2485,467)"><rect class="r w" width="156" height="148"/>
<text class="t" x="78" y="20">Referat N I 2</text>
<text class="b" x="78" y="51">Gebietsschutz</text>
<text class="b" x="78" y="66">Natura 2000</text>
<text class="n" x="78" y="121.6">MinR’in Dr. Anita Breyer</text>
<text class="p" x="148" y="136.3">2620</text></g>
<g id="n-i-3" transform="translate(2485,627)"><rect class="r w" width="156" height="148"/>
<text class="t" x="78" y="20">Referat N I 3</text>
<text class="b" x="78" y="66">Artenschutz</text>
<text class="n" x="78" y="112.3">RDir</text>
<text class="n" x="78" y="126.6">Gerhard Adams</text>
<text class="p" x="148" y="141">26 31</text></g>
<g id="n-i-4" transform="translate(2485,787)"><rect class="r w" width="156" height="148"/>
<text class="t" x="78" y="19">Referat N I 4</text>
<text class="b" x="78" y="40.7">Internationaler Naturschutz;</text>
<text class="b" x="78" y="54.4">Grundsätzliche</text>
<text class="b" x="78" y="69">Angelegenheiten;</text>
<text class="b" x="78" y="83">Übereinkommen über die</text>
<text class="b" x="78" y="97">biologische Vielfalt</text>
<text class="n" x="78" y="124.5">MinR’in Nicola Breier</text>
<text class="p" x="148" y="138">26 19</text></g>
<g id="n-i-5" transform="translate(2485,947)"><rect class="r w" width="156" height="148"/>
<text class="t" x="78" y="20">Referat N I 5</text>
<text class="b" x="78" y="53">Spezifische internationale</text>
<text class="b" x="78" y="68">Naturschutz-Konventionen</text>
<text class="n" x="78" y="111.6">RDir’in</text>
<text class="n" x="78" y="125.6">Dr. Christiane Paulus</text>
<text class="p" x="148" y="140.8">26 30</text></g>
<g id="n-i-6" transform="translate(2485,1107)"><rect class="r w" width="156" height="148"/>
<text class="t" x="78" y="20.5">Referat N I 6</text>
<text class="b" x="78" y="51">Recht des</text>
<text class="b" x="78" y="65">Naturschutzes und der</text>
<text class="b" x="78" y="80">Landschaftspflege</text>
<text class="n" x="78" y="123.5">MinR Dr. Stefan Lütkes</text>
<text class="p" x="148" y="138.6">26 70</text></g>

<!-- N II -->
<g id="n-ii-1" transform="translate(2657,307)"><rect class="r w" width="155" height="148"/>
<text class="t" x="78" y="20.5">Referat N II 1</text>
<text class="b" x="78" y="45">Schutz und nachhaltige</text>
<text class="b" x="78" y="58.6">Nutzung der marinen</text>
<text class="b" x="78" y="73.8">Biodiversität,</text>
<text class="b" x="78" y="87.5">Küstennaturschutz</text>
<text class="n" x="78" y="112">MinR</text>
<text class="n" x="78" y="125.6">Dr. Andreas von Gadow</text>
<text class="p" x="149" y="140.3">26 60</text></g>
<g id="n-ii-2" transform="translate(2657,467)"><rect class="r w" width="155" height="148"/>
<text class="t" x="78" y="20">Referat N II 2</text>
<text class="b" x="78" y="42">Nachhaltige Siedlungs- und</text>
<text class="b" x="78" y="56.8">Infrastrukturentwicklung,</text>
<text class="b" x="78" y="70.5">Landschaftsplanung,</text>
<text class="b" x="78" y="84.3">Eingriffe in Natur</text>
<text class="b" x="78" y="99.4">und Landschaft</text>
<text class="n" x="78" y="117.8">MinR Alfred Walter</text>
<text class="p" x="149" y="137">26 40</text></g>
<g id="n-ii-3" transform="translate(2657,627)"><rect class="r w" width="155" height="148"/>
<text class="t" x="78" y="20">Referat N II 3</text>
<text class="b" x="78" y="41.7">Umwelt und Erholung,</text>
<text class="b" x="78" y="56">Sport, Freizeit und</text>
<text class="b" x="78" y="69.7">Tourismus,</text>
<text class="b" x="78" y="84.4">Großschutzgebiete und</text>
<text class="b" x="78" y="100">Regionalentwicklung</text>
<text class="n" x="78" y="126.6">Gertrud Sahler</text>
<text class="p" x="149" y="141">27 80</text></g>
<g id="n-ii-4" transform="translate(2657,787)"><rect class="r w" width="155" height="148"/>
<text class="t" x="78" y="19">Referat N II 4</text>
<text class="b" x="78" y="38.4">Waldschutz und nachhaltige</text>
<text class="b" x="78" y="51">Waldbewirtschaftung,</text>
<text class="b" x="78" y="65">Biologische Vielfalt</text>
<text class="b" x="78" y="79">und Klimawandel</text>
<text class="n" x="78" y="96">Dr. Horst Freiberg (abg.)</text>
<text class="p" x="149" y="109.6">26 50</text>
<text class="n" x="78" y="124.7">RDir’in Jutta Rühl</text>
<text class="p" x="149" y="140.4">26 52</text></g>
<g id="n-ii-5" transform="translate(2657,947)"><rect class="r w" width="155" height="170"/>
<text class="t" x="78" y="19">Referat N II 5</text>
<text class="b" x="78" y="40.5">Nachhaltige Entwicklung</text>
<text class="b" x="78" y="55">ländlicher Räume,</text>
<text class="b" x="78" y="70">Umweltangelegenheiten</text>
<text class="b" x="78" y="84.6">der Landwirtschaft,</text>
<text class="b" x="78" y="98.4">Umweltangelegenheiten der</text>
<text class="b" x="78" y="112.6">Bio- und Gentechnik</text>
<text class="n" x="78" y="132.4">RDir’in Dr. Almuth</text>
<text class="n" x="78" y="147.5">Ostermeyer-Schlöder</text>
<text class="p" x="149" y="161.3">27 60</text></g>
</svg>
